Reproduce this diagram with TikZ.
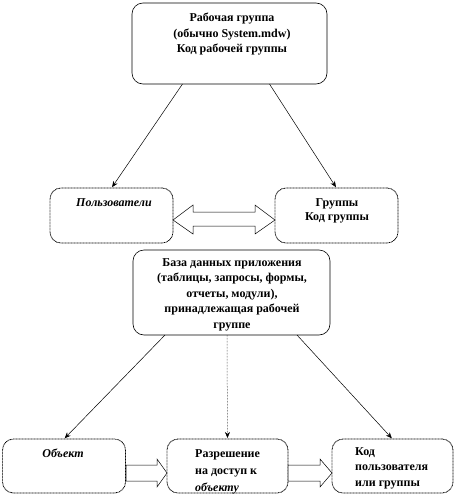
\documentclass[tikz,border=0pt]{standalone}
\usepackage{fontspec}
\setmainfont{Liberation Serif}
\usetikzlibrary{arrows.meta,calc}
\begin{document}
\begin{tikzpicture}[x=1pt,y=-1pt,
  box/.style={draw, rounded corners=11pt, line width=0.6pt, inner sep=0pt, outer sep=0pt},
  dbox/.style={box, line width=0.8pt, dash pattern=on 0.9pt off 0.6pt},
  txt/.style={font=\bfseries\fontsize{12}{15.5}\selectfont, align=center, inner sep=0pt, anchor=north},
  ltxt/.style={txt, align=left, anchor=north west},
  conn/.style={-{Stealth[length=6pt,width=5pt]}, line width=0.5pt, shorten >=1pt},
  hollow/.style={draw, fill=white, line width=0.5pt, line join=miter}]
\useasboundingbox (0,0) rectangle (458,498);

% boxes
\node[box,  minimum width=195pt, minimum height=81pt] (top)   at (229.5,43.5) {};
\node[dbox, minimum width=123pt, minimum height=55pt] (users) at (111.5,215.5) {};
\node[dbox, minimum width=123pt, minimum height=55pt] (groups) at (336.5,215.5) {};
\node[box,  minimum width=197pt, minimum height=85pt] (mid)   at (231.5,292.5) {};
\node[dbox, minimum width=123pt, minimum height=54pt] (b1)    at (64,466) {};
\node[dbox, minimum width=121pt, minimum height=54pt] (b2)    at (227.5,466) {};
\node[dbox, minimum width=121pt, minimum height=54pt] (b3)    at (392.5,466) {};

% texts
\node[txt] (ttop) at (232,13) {Рабочая группа\\(обычно System.mdw)\\Код рабочей группы};
\node[txt] (tusers) at (114,198) {\itshape Пользователи};
\node[txt, font=\bfseries\fontsize{12}{14}\selectfont] (tgroups) at (337,198) {Группы\\Код группы};
\node[txt] (tmid) at (232,258) {База данных приложения\\(таблицы, запросы, формы,\\отчеты, модули),\\принадлежащая рабочей\\группе};
\node[txt] (tb1) at (63,449) {\itshape Объект};
\begin{scope}
  \clip[rounded corners=11pt] (b2.south west) rectangle (b2.north east);
  \node[ltxt, font=\bfseries\fontsize{12}{17}\selectfont] (tb2) at (195,449) {Разрешение\\на доступ к\\\itshape объекту};
\end{scope}
\node[ltxt] (tb3) at (355,447) {Код\\пользователя\\или группы};

% connectors
\draw[conn] ($(top.south)+(-47,0)$) -- (users.north);
\draw[conn] ($(top.south)+(40,0)$) -- (groups.north);
\draw[conn] ($(mid.south)+(-66.5,0)$) -- (b1.north);
\draw[conn, densely dotted] ($(mid.south)+(-4.5,0)$) -- (b2.north);
\draw[conn] ($(mid.south)+(65.5,0)$) -- (b3.north);

% hollow block arrows
\draw[hollow] (173,220) -- (193,205) -- (193,212) -- (255,212) -- (255,205) -- (275,220)
  -- (255,234) -- (255,226) -- (193,226) -- (193,234) -- cycle;
\draw[hollow] (126,465) -- (157,465) -- (157,459) -- (167,473) -- (157,487) -- (157,481) -- (126,481) -- cycle;
\draw[hollow] (288,465) -- (320,465) -- (320,459) -- (332,473) -- (320,487) -- (320,481) -- (288,481) -- cycle;
\end{tikzpicture}
\end{document}
